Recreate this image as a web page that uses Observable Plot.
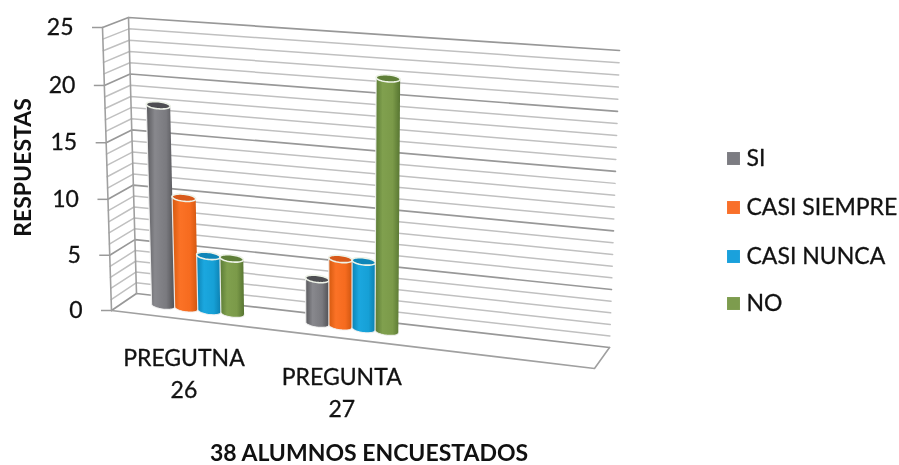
<!DOCTYPE html>
<html><head><meta charset="utf-8">
<script src="https://cdn.jsdelivr.net/npm/d3@7"></script>
<script src="https://cdn.jsdelivr.net/npm/@observablehq/plot@0.6"></script>
<style>html,body{margin:0;padding:0;background:#fff}svg{display:block}</style>
</head><body><div id="chart"></div>
<script>
// --- data
const categories = ["PREGUTNA\n26", "PREGUNTA\n27"];
const seriesNames = ["SI", "CASI SIEMPRE", "CASI NUNCA", "NO"];
const valuesSI = [18, 4];
const valuesCasiSiempre = [10, 6];
const valuesCasiNunca = [5, 6];
const valuesNo = [5, 22];
const seriesValues = [valuesSI, valuesCasiSiempre, valuesCasiNunca, valuesNo];
const yTicks = [0, 5, 10, 15, 20, 25];
const gridValues = d3.range(0, 26);
const xLabel = "38 ALUMNOS ENCUESTADOS";
const yLabel = "RESPUESTAS";

// --- styles
const colors = ["#7c7c82", "#f9702a", "#1aa1dc", "#7d9c4e"];
const stops = [
  ["#58585c", "#88888d", "#7a7a7f", "#505054"],
  ["#d4590f", "#fb7226", "#f66b1f", "#cf5610"],
  ["#0d82b3", "#1ba7df", "#16a0d6", "#0c7fb0"],
  ["#5a7a34", "#80a04e", "#7b9a49", "#577531"]
];
const caps = ["#4e4e52", "#d8591a", "#0f86b8", "#5f7f38"];
const font = "Lato";
const ink = "#111";
const inkWeight = {stroke: ink, strokeWidth: 0.3};

// --- chart-space scales (categories across, answers up)
const xDomain = [0, 3], xRange = [111, 594];
const yDomain = [0, 25], yRange = [310, 27];
const toX = p => (p - xRange[0]) / (xRange[1] - xRange[0]) * (xDomain[1] - xDomain[0]);
const toY = p => (p - yRange[0]) / (yRange[1] - yRange[0]) * (yDomain[1] - yDomain[0]);

// --- camera: corners of the back and front planes of the 3D box
const cam = {
  back:  {bl: [136, 293], br: [609, 347], tl: [128, 17], tr: [619, 50]},
  front: {bl: [111, 310], br: [594, 368], tl: [102, 27], tr: [604, 71]}
};
const mix = (a, b, t) => a + (b - a) * t;
const warp = t => t - 0.03 * t * (1 - t);
function plane(q, s, t) {
  const w = warp(t);
  return [0, 1].map(k => mix(mix(q.bl[k], q.br[k], s), mix(q.tl[k], q.tr[k], s), w));
}
// c: category position, d: depth (0 back, 1 front), v: value
function project(c, d, v) {
  const s = c / 3, t = v / 25;
  const b = plane(cam.back, s, t), f = plane(cam.front, s, t);
  return {x: toX(mix(b[0], f[0], d)), y: toY(mix(b[1], f[1], d))};
}

// --- grid
const gridPts = [];
for (const v of gridValues) {
  for (const [c, d] of [[0, 1], [0, 0], [3, 0]]) gridPts.push({v, major: v % 5 === 0, ...project(c, d, v)});
}
const edgePts = [
  ...[[0,1,0],[0,1,25]].map(([c,d,v]) => ({id: "front", ...project(c,d,v)})),
  ...[[0,0,0],[0,0,25]].map(([c,d,v]) => ({id: "back", ...project(c,d,v)})),
  ...[[0,1,0],[3,1,0],[3,0,0]].map(([c,d,v]) => ({id: "floor", ...project(c,d,v)}))
];
const tickRows = yTicks.map(v => {
  const p = project(0, 1, v);
  return {v, x: p.x, y: p.y, x0: p.x - 10.5 / 161};
});

// --- cylinders
const groupCenters = [0.456, 1.425];
const barStep = 0.145, barHalf = 0.073, barDepth = 0.45, capR = 0.31;
const angles = d3.range(0, 25).map(i => i / 24 * Math.PI);
function ring(c, v, a0) {
  return angles.map(a => {
    const p = project(c + barHalf * Math.cos(a + a0), barDepth, v);
    return {x: p.x, y: p.y + capR * Math.sin(a + a0)};
  });
}
const bars = [], capsData = [];
seriesNames.forEach((name, si) => categories.forEach((cat, ci) => {
  const c = groupCenters[ci] + (si - 1.5) * barStep, v = seriesValues[si][ci];
  bars.push({si, id: si + "-" + ci, pts: [...ring(c, v, 0), ...ring(c, 0, Math.PI)]});
  capsData.push({si, id: si + "-" + ci, pts: [...ring(c, v, 0), ...ring(c, v, Math.PI)]});
}));
const flat = a => a.flatMap(b => b.pts.map(p => ({...p, id: b.id, si: b.si})));
const barPts = flat(bars), capPts = flat(capsData);

const defs = () => {
  const d = d3.create("svg:defs");
  stops.forEach((st, i) => {
    const g = d.append("linearGradient").attr("id", "bar" + i).attr("x1", 0).attr("x2", 1).attr("y1", 0).attr("y2", 0);
    [0, .3, .7, 1].forEach((o, k) => g.append("stop").attr("offset", o).attr("stop-color", st[k]));
  });
  return d.node();
};

const at = (dx, dy, extra) => ({frameAnchor: "top-left", lineAnchor: "middle", dx, dy, fontFamily: font, fill: ink, ...extra});

const marks = [
  defs,
  Plot.line(gridPts.filter(d => !d.major), {x: "x", y: "y", z: "v", stroke: "#c0c0c0", strokeWidth: 1.5}),
  Plot.line(gridPts.filter(d => d.major), {x: "x", y: "y", z: "v", stroke: "#989898", strokeWidth: 1.7}),
  Plot.line(edgePts, {x: "x", y: "y", z: "id", stroke: "#a0a0a0", strokeWidth: 1.6}),
  Plot.link(tickRows, {x1: "x0", x2: "x", y1: "y", y2: "y", stroke: "#9a9a9a", strokeWidth: 1.5}),
  Plot.text(tickRows, {x: "x", y: "y", text: d => String(d.v), textAnchor: "end", dx: -29, fontSize: 23, fontFamily: font, fill: ink, ...inkWeight}),
];
stops.forEach((_, i) => {
  marks.push(Plot.line(barPts.filter(p => p.si === i), {x: "x", y: "y", z: "id", fill: `url(#bar${i})`, stroke: "#f2f2f2", strokeWidth: 1.2, strokeOpacity: 0.9, curve: "linear"}));
  marks.push(Plot.line(capPts.filter(p => p.si === i), {x: "x", y: "y", z: "id", fill: caps[i], stroke: "#eef3e8", strokeWidth: 1.6, curve: "linear"}));
});
// category labels hang under the front floor edge
const catRows = categories.map((label, i) => {
  const p = project([0.45, 1.43][i], 1, 0);
  return {label, x: p.x, y: p.y};
});
marks.push(Plot.text(catRows, {x: "x", y: "y", text: "label", dy: 53, lineHeight: 1.39, fontSize: 23, fontFamily: font, fill: ink, ...inkWeight}));
marks.push(Plot.text([xLabel], at(368.5, 453, {text: d => d, textAnchor: "middle", fontSize: 23, fontWeight: 700})));
marks.push(Plot.text([yLabel], at(23, 167, {text: d => d, textAnchor: "middle", rotate: -90, fontSize: 23, fontWeight: 700})));
const legendRows = [158, 207, 256, 303];
seriesNames.forEach((name, i) => {
  marks.push(Plot.dot([name], {frameAnchor: "top-left", dx: 733, dy: legendRows[i], symbol: "square", r: 7.3, fill: colors[i]}));
  marks.push(Plot.text([name], at(746, legendRows[i], {text: d => d, textAnchor: "start", fontSize: 23, ...inkWeight})));
});

const chart = Plot.plot({
  width: 899, height: 465,
  marginTop: 0, marginRight: 0, marginBottom: 0, marginLeft: 0,
  x: {domain: xDomain, range: xRange, axis: null},
  y: {domain: yDomain, range: yRange, axis: null},
  style: {background: "#fff", filter: "blur(0.45px)"},
  marks
});
document.getElementById("chart").append(chart);
</script></body></html>
